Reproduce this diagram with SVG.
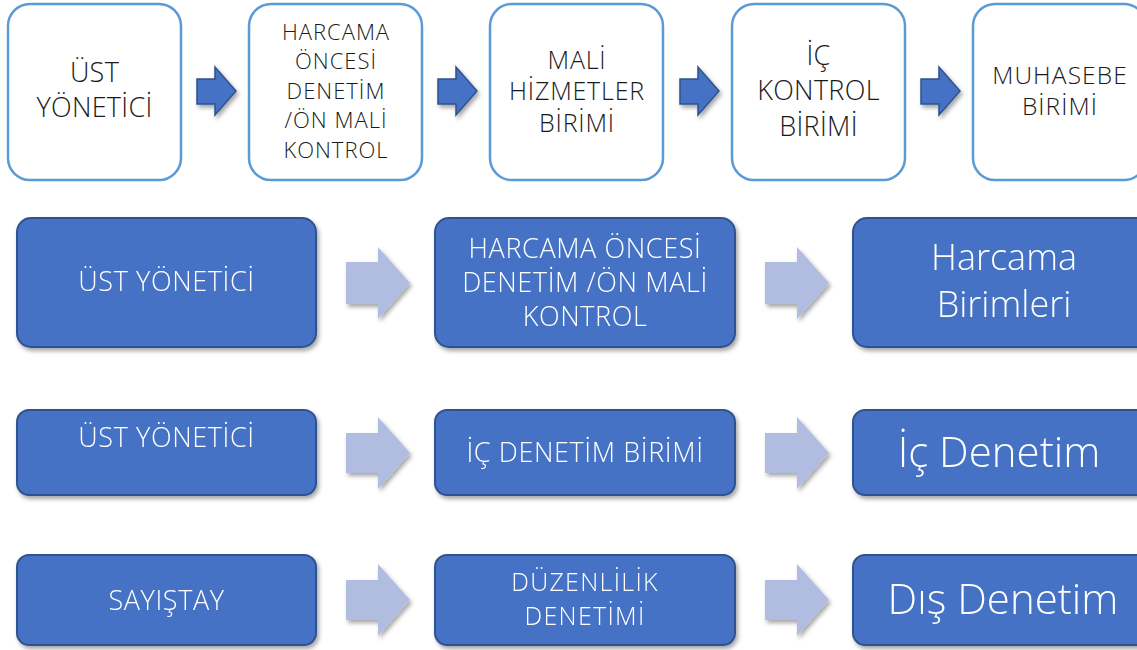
<svg xmlns="http://www.w3.org/2000/svg" width="1137" height="650" viewBox="0 0 1137 650">
<defs>
<filter id="sh" x="-10%" y="-10%" width="125%" height="130%">
<feDropShadow dx="2" dy="3" stdDeviation="2.2" flood-color="#000" flood-opacity="0.35"/>
</filter>
<style>
.wbox{fill:#fff;stroke:#5B9BD5;stroke-width:2.5}
.bbox{fill:#4472C4;stroke:#2F528F;stroke-width:2}
.darr{fill:#4472C4;stroke:#2F528F;stroke-width:1.5}
.larr{fill:#B0BCE0}
.tk{font-family:"Open Sans","Noto Sans","Liberation Sans",sans-serif;fill:#1a1a1a;text-anchor:middle;font-weight:300}
.tw{font-family:"Open Sans","Noto Sans","Liberation Sans",sans-serif;fill:#fff;text-anchor:middle;font-weight:300}
.m{font-size:27px;letter-spacing:0.6px}
</style>
</defs>
<rect width="1137" height="650" fill="#fff"/>

<g id="connectors">
<g filter="url(#sh)">
<polygon class="darr" points="197,79 215,79 215,67 236,91 215,115 215,104 197,104"/>
<polygon class="darr" points="438,79 456,79 456,67 477,91 456,115 456,104 438,104"/>
<polygon class="darr" points="680,79 698,79 698,67 719,91 698,115 698,104 680,104"/>
<polygon class="darr" points="921,79 939,79 939,67 960,91 939,115 939,104 921,104"/>
<polygon class="larr" points="346,262 378,262 378,247 410,283 378,319 378,304 346,304"/>
<polygon class="larr" points="765,262 797,262 797,247 829,283 797,319 797,304 765,304"/>
<polygon class="larr" points="346,433 378,433 378,417 410,453 378,489 378,473 346,473"/>
<polygon class="larr" points="765,433 797,433 797,417 829,453 797,489 797,473 765,473"/>
<polygon class="larr" points="346,580 378,580 378,564 410,600 378,636 378,620 346,620"/>
<polygon class="larr" points="765,580 797,580 797,564 829,600 797,636 797,620 765,620"/>
</g>
</g>

<g id="t1">
<rect class="wbox" x="8" y="4" width="173" height="176" rx="22"/>
<text class="tk" font-size="27" letter-spacing="0.3"><tspan x="94.5" y="82">ÜST</tspan><tspan x="94.5" y="117">YÖNETİCİ</tspan></text>
</g>
<g id="t2">
<rect class="wbox" x="249" y="4" width="173" height="176" rx="22"/>
<text class="tk" font-size="22" letter-spacing="1"><tspan x="336" y="40">HARCAMA</tspan><tspan x="336" y="69">ÖNCESİ</tspan><tspan x="336" y="99">DENETİM</tspan><tspan x="336" y="128">/ÖN MALİ</tspan><tspan x="336" y="158">KONTROL</tspan></text>
</g>
<g id="t3">
<rect class="wbox" x="490" y="4" width="173" height="176" rx="22"/>
<text class="tk" font-size="25" letter-spacing="0.8"><tspan x="577" y="69">MALİ</tspan><tspan x="577" y="100">HİZMETLER</tspan><tspan x="577" y="132">BİRİMİ</tspan></text>
</g>
<g id="t4">
<rect class="wbox" x="732" y="4" width="173" height="176" rx="22"/>
<text class="tk" font-size="27" letter-spacing="0.3"><tspan x="818.5" y="65">İÇ</tspan><tspan x="818.5" y="100">KONTROL</tspan><tspan x="818.5" y="136">BİRİMİ</tspan></text>
</g>
<g id="t5">
<rect class="wbox" x="973" y="4" width="173" height="176" rx="22"/>
<text class="tk" font-size="24.5" letter-spacing="1.1"><tspan x="1060" y="84">MUHASEBE</tspan><tspan x="1060" y="115">BİRİMİ</tspan></text>
</g>

<g filter="url(#sh)">
<g id="r2a">
<rect class="bbox" x="17" y="218" width="299" height="129" rx="14"/>
<text class="tw m"><tspan x="166.5" y="291">ÜST YÖNETİCİ</tspan></text>
</g>
<g id="r2b">
<rect class="bbox" x="435" y="218" width="300" height="129" rx="14"/>
<text class="tw m" letter-spacing="0.9"><tspan x="585" y="258">HARCAMA ÖNCESİ</tspan><tspan x="585" y="292">DENETİM /ÖN MALİ</tspan><tspan x="585" y="326">KONTROL</tspan></text>
</g>
<g id="r2c">
<rect class="bbox" x="853" y="218" width="302" height="129" rx="14"/>
<text class="tw" font-size="36"><tspan x="1004" y="270">Harcama</tspan><tspan x="1004" y="317">Birimleri</tspan></text>
</g>
<g id="r3a">
<rect class="bbox" x="17" y="410" width="299" height="85" rx="12"/>
<text class="tw m"><tspan x="166.5" y="447">ÜST YÖNETİCİ</tspan></text>
</g>
<g id="r3b">
<rect class="bbox" x="435" y="410" width="300" height="85" rx="12"/>
<text class="tw m" letter-spacing="1"><tspan x="585" y="462">İÇ DENETİM BİRİMİ</tspan></text>
</g>
<g id="r3c">
<rect class="bbox" x="853" y="410" width="302" height="85" rx="12"/>
<text class="tw" font-size="42"><tspan x="999" y="467">İç Denetim</tspan></text>
</g>
<g id="r4a">
<rect class="bbox" x="17" y="555" width="299" height="90" rx="12"/>
<text class="tw m"><tspan x="166.5" y="610">SAYIŞTAY</tspan></text>
</g>
<g id="r4b">
<rect class="bbox" x="435" y="555" width="300" height="90" rx="12"/>
<text class="tw" font-size="25" letter-spacing="1.3"><tspan x="585" y="591">DÜZENLİLİK</tspan><tspan x="585" y="625">DENETİMİ</tspan></text>
</g>
<g id="r4c">
<rect class="bbox" x="853" y="555" width="302" height="90" rx="12"/>
<text class="tw" font-size="42"><tspan x="1003" y="614">Dış Denetim</tspan></text>
</g>
</g>
</svg>
